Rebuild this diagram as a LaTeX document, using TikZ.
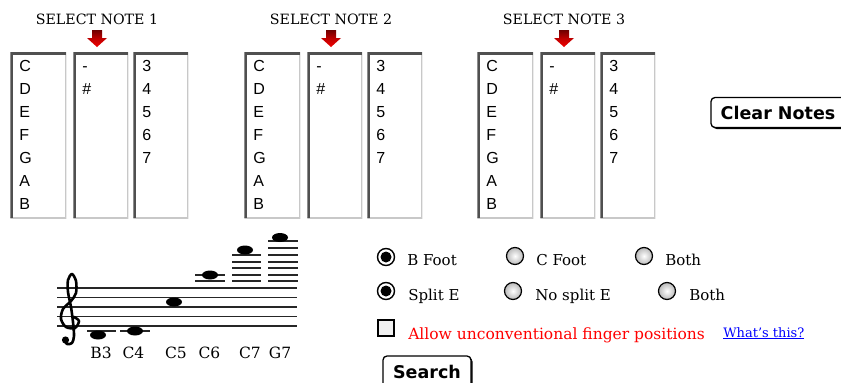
\documentclass[tikz,border=0pt]{standalone}
\usepackage{fontspec}
\setmainfont{DejaVu Serif}
\setsansfont{Liberation Sans}
\newfontfamily\btnfont{DejaVu Sans}
\usepackage{xcolor}
\usepackage{tikz}
\usetikzlibrary{positioning, shapes.geometric, shadows}

\definecolor{listdark}{RGB}{80,80,80}
\definecolor{listlight}{RGB}{200,200,200}
\definecolor{arrowdark}{RGB}{110,0,0}
\definecolor{arrowred}{RGB}{240,0,0}

\newcommand{\firstrow}{\rule{0pt}{16pt}}

\begin{document}
\begin{tikzpicture}[x=1pt, y=-1pt,
  listbox/.style={rectangle, draw=none, fill=white, anchor=north west,
    minimum width=55pt, minimum height=166pt, inner sep=0pt,
    path picture={
      \draw[listlight, line width=2pt] (path picture bounding box.north east)
        -- (path picture bounding box.south east) -- (path picture bounding box.south west);
      \draw[listdark, line width=5pt] (path picture bounding box.south west)
        -- (path picture bounding box.north west) -- (path picture bounding box.north east);}},
  %
  entries/.style={anchor=north west, align=left, inner sep=0pt,
    font=\sffamily\fontsize{16}{23}\selectfont},
  %
  title/.style={inner sep=0pt, font=\fontsize{14.2}{16}\selectfont},
  %
  pickarrow/.style={top color=arrowdark, bottom color=arrowred, middle color=arrowred!80!black},
  %
  button/.style={rectangle, rounded corners=4pt, draw=black, line width=1.3pt, fill=white,
    drop shadow={shadow xshift=1.5pt, shadow yshift=-1.5pt, opacity=1, fill=black},
    inner sep=0pt, font=\btnfont\bfseries\fontsize{17.5}{20}\selectfont},
  %
  notehead/.style={ellipse, fill=black, minimum width=16pt, minimum height=9pt, inner sep=0pt},
  %
  notename/.style={anchor=base, inner sep=0pt, font=\fontsize{15.5}{18}\selectfont},
  %
  staff/.style={line width=1.2pt, black!85},
  %
  ledger/.style={line width=1.2pt, black!85},
  %
  clefline/.style={line width=2.6pt, line cap=round, line join=round},
  %
  radio/.style={circle, draw=black, line width=1.2pt, minimum size=17pt, inner sep=0pt,
    shading=radial, inner color=white, outer color=gray!55},
  %
  radioon/.style={circle, draw=black, line width=1.4pt, minimum size=17pt, inner sep=0pt,
    fill=white, path picture={\fill[black] (path picture bounding box.center) circle (5.5pt);}},
  %
  checkbox/.style={rectangle, draw=black, line width=1.2pt, fill=gray!12, minimum size=16pt,
    inner sep=0pt, drop shadow={shadow xshift=1pt, shadow yshift=-1pt, opacity=1, fill=black!60}},
  %
  option/.style={anchor=base west, inner sep=0pt, font=\fontsize{15}{18}\selectfont}
  ]

  \useasboundingbox (0,0) rectangle (841,383);
  \clip (0,0) rectangle (841,383);

  \tikzset{every path/.style={line width=.6pt}}

  % note pickers
  \foreach \n/\dx in {1/0, 2/234, 3/467} {
    \begin{scope}[shift={(\dx,0)}]
      \node [title] (title\n) at (97,19) {SELECT NOTE \n};
      \shade [pickarrow] (92,30) -- (102,30) -- (102,38) -- (107,38) -- (97,47)
        -- (87,38) -- (92,38) -- cycle;
      %%%%%%%%%%%%%%%%%%%%%%%%%%%%%%%
      \node [listbox, minimum width=56pt] (letter\n) at (10,52) {};
      \node [listbox] (accid\n) at (73,52) {};
      \node [listbox] (octave\n) at (133,52) {};
      %%%%%%%%%%%%%%%%%%%%%%%%%%%%%%%
      \node [entries] (letter\n-txt) at ([shift={(9,3)}]letter\n.north west)
        {\firstrow C\\D\\E\\F\\G\\A\\B};
      \node [entries] (accid\n-txt) at ([shift={(9,3)}]accid\n.north west)
        {\firstrow -\\\#};
      \node [entries] (octave\n-txt) at ([shift={(9,3)}]octave\n.north west)
        {\firstrow 3\\4\\5\\6\\7};
    \end{scope}
  }

  \node [button, minimum width=134pt, minimum height=30pt] (clear) at (778,112.5) {Clear Notes};

  % staff with range
  \begin{scope}
    \foreach \y in {288,297.5,307,316.5,326}
      \draw [staff] (57,\y) -- (297,\y);
    % treble clef
    \draw [clefline] plot [smooth] coordinates {(74,317) (79,321) (75,328) (66,327)
      (61,319) (63,309) (71,301) (76,293) (76,281) (72,274) (68,280) (68,292)
      (71,307) (73,322) (74,336) (72,343) (67,344) (64,340)};
    \fill (65.5,340) circle (3.6pt);
    %%%%%%%%%%%%%%%%%%%%%%%%%%%%%%%
    \draw [ledger] (87,331) -- (116,331);
    \draw [ledger] (120,331) -- (150,331);
    \foreach \y in {275,281}
      \draw [ledger] (195,\y) -- (225,\y);
    \foreach \y in {255,262,268,275,281}
      \draw [ledger] (232,\y) -- (261,\y);
    \foreach \y in {241,248,255,262,268,275,281}
      \draw [ledger] (268,\y) -- (298,\y);
    %%%%%%%%%%%%%%%%%%%%%%%%%%%%%%%
    \node [notehead] (b3) at (98,335) {};
    \node [notehead] (c4) at (135,331) {};
    \node [notehead] (c5) at (174,302) {};
    \node [notehead] (c6) at (210,275) {};
    \node [notehead] (c7) at (245,250) {};
    \node [notehead] (g7) at (280,237.5) {};
    %%%%%%%%%%%%%%%%%%%%%%%%%%%%%%%
    \node [notename] (lab-b3) at (101,358) {B3};
    \node [notename] (lab-c4) at (133.5,358) {C4};
    \node [notename] (lab-c5) at (176,358) {C5};
    \node [notename] (lab-c6) at (209.5,358) {C6};
    \node [notename] (lab-c7) at (250,358) {C7};
    \node [notename] (lab-g7) at (280,358) {G7};
  \end{scope}

  % search options
  \begin{scope}
    \node [radioon] (bfoot) at (386,257) {};
    \node [radio] (cfoot) at (515,256) {};
    \node [radio] (bothfoot) at (644,256) {};
    \node [option] (bfoot-lbl) at (407,265) {B Foot};
    \node [option] (cfoot-lbl) at (536,265) {C Foot};
    \node [option] (bothfoot-lbl) at (665,265) {Both};
    %%%%%%%%%%%%%%%%%%%%%%%%%%%%%%%
    \node [radioon] (splite) at (386,291) {};
    \node [radio] (nosplite) at (513,291) {};
    \node [radio] (bothsplit) at (667,291) {};
    \node [option] (splite-lbl) at (408,300) {Split E};
    \node [option] (nosplite-lbl) at (535,300) {No split E};
    \node [option] (bothsplit-lbl) at (689,300) {Both};
    %%%%%%%%%%%%%%%%%%%%%%%%%%%%%%%
    \node [checkbox] (allow) at (386,328) {};
    \node [option, text=red, font=\fontsize{15.5}{18}\selectfont] (allow-lbl) at (408,339)
      {Allow unconventional finger positions};
    \node [option, text=blue, font=\fontsize{13}{15}\selectfont] (whats) at (723,337)
      {\underline{What's this?}};
  \end{scope}

  \node [button, minimum width=88pt, minimum height=31pt] (search) at (427,371.5) {Search};

\end{tikzpicture}
\end{document}
